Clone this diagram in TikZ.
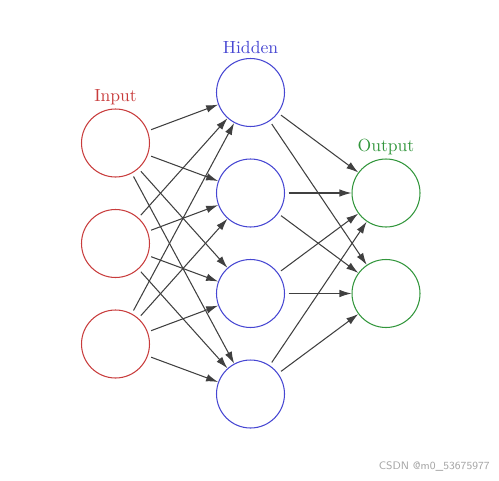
\documentclass[tikz,border=0pt]{standalone}
\usepackage{xcolor}
\usepackage{tikz}
\usetikzlibrary{arrows}
\usetikzlibrary{arrows.meta}

\definecolor{inred}{RGB}{200,60,60}
\definecolor{hidblue}{RGB}{70,70,210}
\definecolor{outgreen}{RGB}{50,150,60}

\begin{document}
\begin{tikzpicture}[>={Latex[length=2.4mm, width=1.5mm]}, x=0.02cm, y=-0.02cm,
    neuron/.style={circle, draw, line width=0.6pt, minimum size=1.36cm, inner sep=0pt},
    edge/.style={->, draw=black!75, line width=0.6pt, shorten <=2pt}]
      % pixel coordinates, origin at upper left corner
      \useasboundingbox (0, 0) rectangle (499, 480);
      \def\dy{100.5}
      % layers
      \foreach \i in {1,2,3}
        \node [neuron, draw=inred] (I-\i) at (115.5, 143 + \dy * \i - \dy) {};
      \foreach \h in {1,2,3,4}
        \node [neuron, draw=hidblue] (H-\h) at (250.5, 92.5 + \dy * \h - \dy) {};
      \foreach \o in {1,2}
        \node [neuron, draw=outgreen] (O-\o) at (386, 193 + \dy * \o - \dy) {};
      % labels
      \node [text=inred] (inlabel) at (115.5, 97) {Input};
      \node [text=hidblue] (hidlabel) at (250.5, 47) {Hidden};
      \node [text=outgreen] (outlabel) at (386, 147) {Output};
      % connections
      \foreach \i in {1,2,3}
        \foreach \h in {1,2,3,4}
          \draw [edge] (I-\i) -- (H-\h);
      \foreach \h in {1,2,3,4}
        \foreach \o in {1,2}
          \draw [edge] (H-\h) -- (O-\o);
      \node [text=black!35, font=\sffamily\fontsize{6.2}{7}\selectfont, anchor=east, inner sep=0pt] (mark) at (490, 467) {CSDN @m0\_53675977};
\end{tikzpicture}
\end{document}
